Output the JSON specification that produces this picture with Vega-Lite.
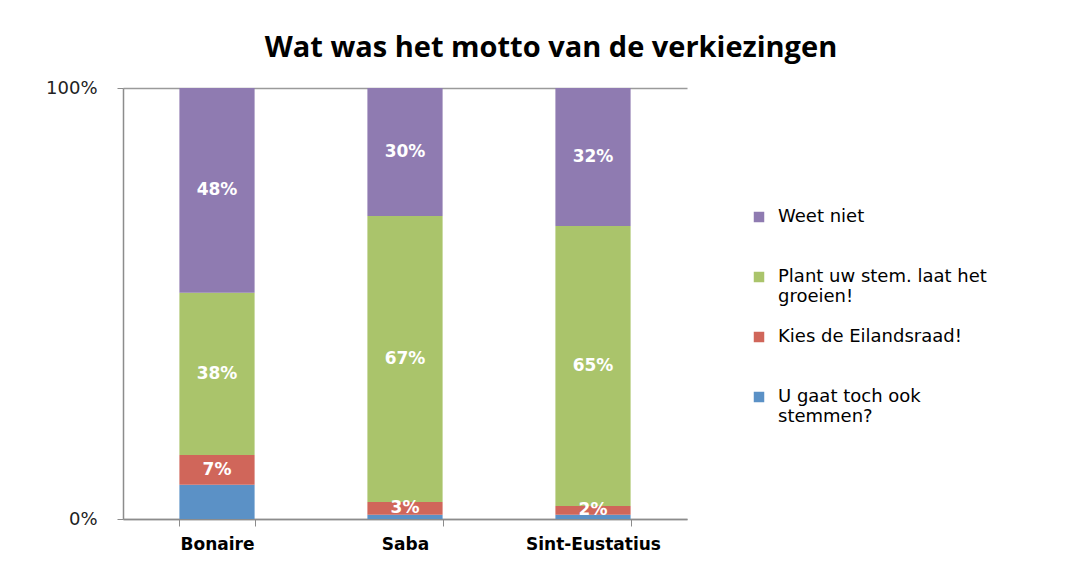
{
  "$schema": "https://vega.github.io/schema/vega-lite/v6.json",
  "width": 564,
  "height": 431,
  "autosize": {"type": "none"},
  "padding": {"left": 123, "top": 88, "right": 395, "bottom": 42},
  "background": "white",
  "config": {"view": {"stroke": null}},
  "title": {
    "text": "Wat was het motto van de verkiezingen",
    "font": "Open Sans",
    "fontSize": 29,
    "fontWeight": "bold",
    "color": "#000000",
    "anchor": "middle",
    "dx": 146,
    "offset": 16
  },
  "data": {
    "values": [
      {"eiland": "Bonaire", "antwoord": "U gaat toch ook stemmen?", "volgorde": 1, "value": 0.08},
      {"eiland": "Bonaire", "antwoord": "Kies de Eilandsraad!", "volgorde": 2, "value": 0.07},
      {"eiland": "Bonaire", "antwoord": "Plant uw stem. laat het groeien!", "volgorde": 3, "value": 0.38},
      {"eiland": "Bonaire", "antwoord": "Weet niet", "volgorde": 4, "value": 0.48},
      {"eiland": "Saba", "antwoord": "U gaat toch ook stemmen?", "volgorde": 1, "value": 0.01},
      {"eiland": "Saba", "antwoord": "Kies de Eilandsraad!", "volgorde": 2, "value": 0.03},
      {"eiland": "Saba", "antwoord": "Plant uw stem. laat het groeien!", "volgorde": 3, "value": 0.67},
      {"eiland": "Saba", "antwoord": "Weet niet", "volgorde": 4, "value": 0.30},
      {"eiland": "Sint-Eustatius", "antwoord": "U gaat toch ook stemmen?", "volgorde": 1, "value": 0.01},
      {"eiland": "Sint-Eustatius", "antwoord": "Kies de Eilandsraad!", "volgorde": 2, "value": 0.02},
      {"eiland": "Sint-Eustatius", "antwoord": "Plant uw stem. laat het groeien!", "volgorde": 3, "value": 0.65},
      {"eiland": "Sint-Eustatius", "antwoord": "Weet niet", "volgorde": 4, "value": 0.32}
    ]
  },
  "transform": [
    {"stack": "value", "groupby": ["eiland"], "sort": [{"field": "volgorde", "order": "ascending"}], "offset": "normalize", "as": ["y0", "y1"]},
    {"calculate": "(datum.y0 + datum.y1) / 2", "as": "ym"}
  ],
  "encoding": {
    "x": {
      "field": "eiland",
      "type": "nominal",
      "sort": ["Bonaire", "Saba", "Sint-Eustatius"],
      "scale": {"paddingInner": 0.6, "paddingOuter": 0.3},
      "axis": {
        "title": null,
        "labelAngle": 0,
        "labelFont": "DejaVu Sans",
        "labelFontSize": 17,
        "labelFontWeight": "bold",
        "labelColor": "#000000",
        "labelPadding": 10,
        "domainColor": "#8c8c8c",
        "domainWidth": 1.5,
        "tickColor": "#8c8c8c",
        "tickBand": "extent",
        "tickSize": 7,
        "grid": false
      }
    }
  },
  "layer": [
    {
      "mark": {"type": "bar"},
      "encoding": {
        "y": {
          "field": "y0",
          "type": "quantitative",
          "scale": {"domain": [0, 1]},
          "axis": {
            "title": null,
            "values": [0, 1],
            "format": ".0%",
            "labelFont": "DejaVu Sans",
            "labelFontSize": 18,
            "labelColor": "#222222",
            "labelPadding": 20,
            "domainColor": "#8c8c8c",
            "domainWidth": 1.5,
            "tickColor": "#8c8c8c",
            "tickSize": 6,
            "grid": true,
            "gridColor": "#9a9a9a",
            "gridWidth": 1.5
          }
        },
        "y2": {"field": "y1"},
        "color": {
          "field": "antwoord",
          "type": "nominal",
          "scale": {
            "domain": ["Weet niet", "Plant uw stem. laat het groeien!", "Kies de Eilandsraad!", "U gaat toch ook stemmen?"],
            "range": ["#8f7bb1", "#aac46b", "#d0665a", "#5b91c6"]
          },
          "legend": {
            "title": null,
            "orient": "none",
            "legendX": 627,
            "legendY": 120,
            "symbolType": "square",
            "symbolSize": 110,
            "symbolStrokeWidth": 0,
            "labelFont": "DejaVu Sans",
            "labelFontSize": 18,
            "labelColor": "#000000",
            "labelLimit": 400,
            "labelOffset": 10,
            "labelBaseline": "middle",
            "rowPadding": 22,
            "labelExpr": "datum.label == 'Plant uw stem. laat het groeien!' ? ['Plant uw stem. laat het', 'groeien!'] : datum.label == 'U gaat toch ook stemmen?' ? ['U gaat toch ook', 'stemmen?'] : [datum.label, ' ']"
          }
        }
      }
    },
    {
      "transform": [{"filter": "datum.antwoord != 'U gaat toch ook stemmen?'"}],
      "mark": {"type": "text", "color": "white", "font": "DejaVu Sans", "fontWeight": "bold", "fontSize": 17, "baseline": "middle"},
      "encoding": {
        "y": {"field": "ym", "type": "quantitative"},
        "text": {"field": "value", "type": "quantitative", "format": ".0%"}
      }
    }
  ]
}
